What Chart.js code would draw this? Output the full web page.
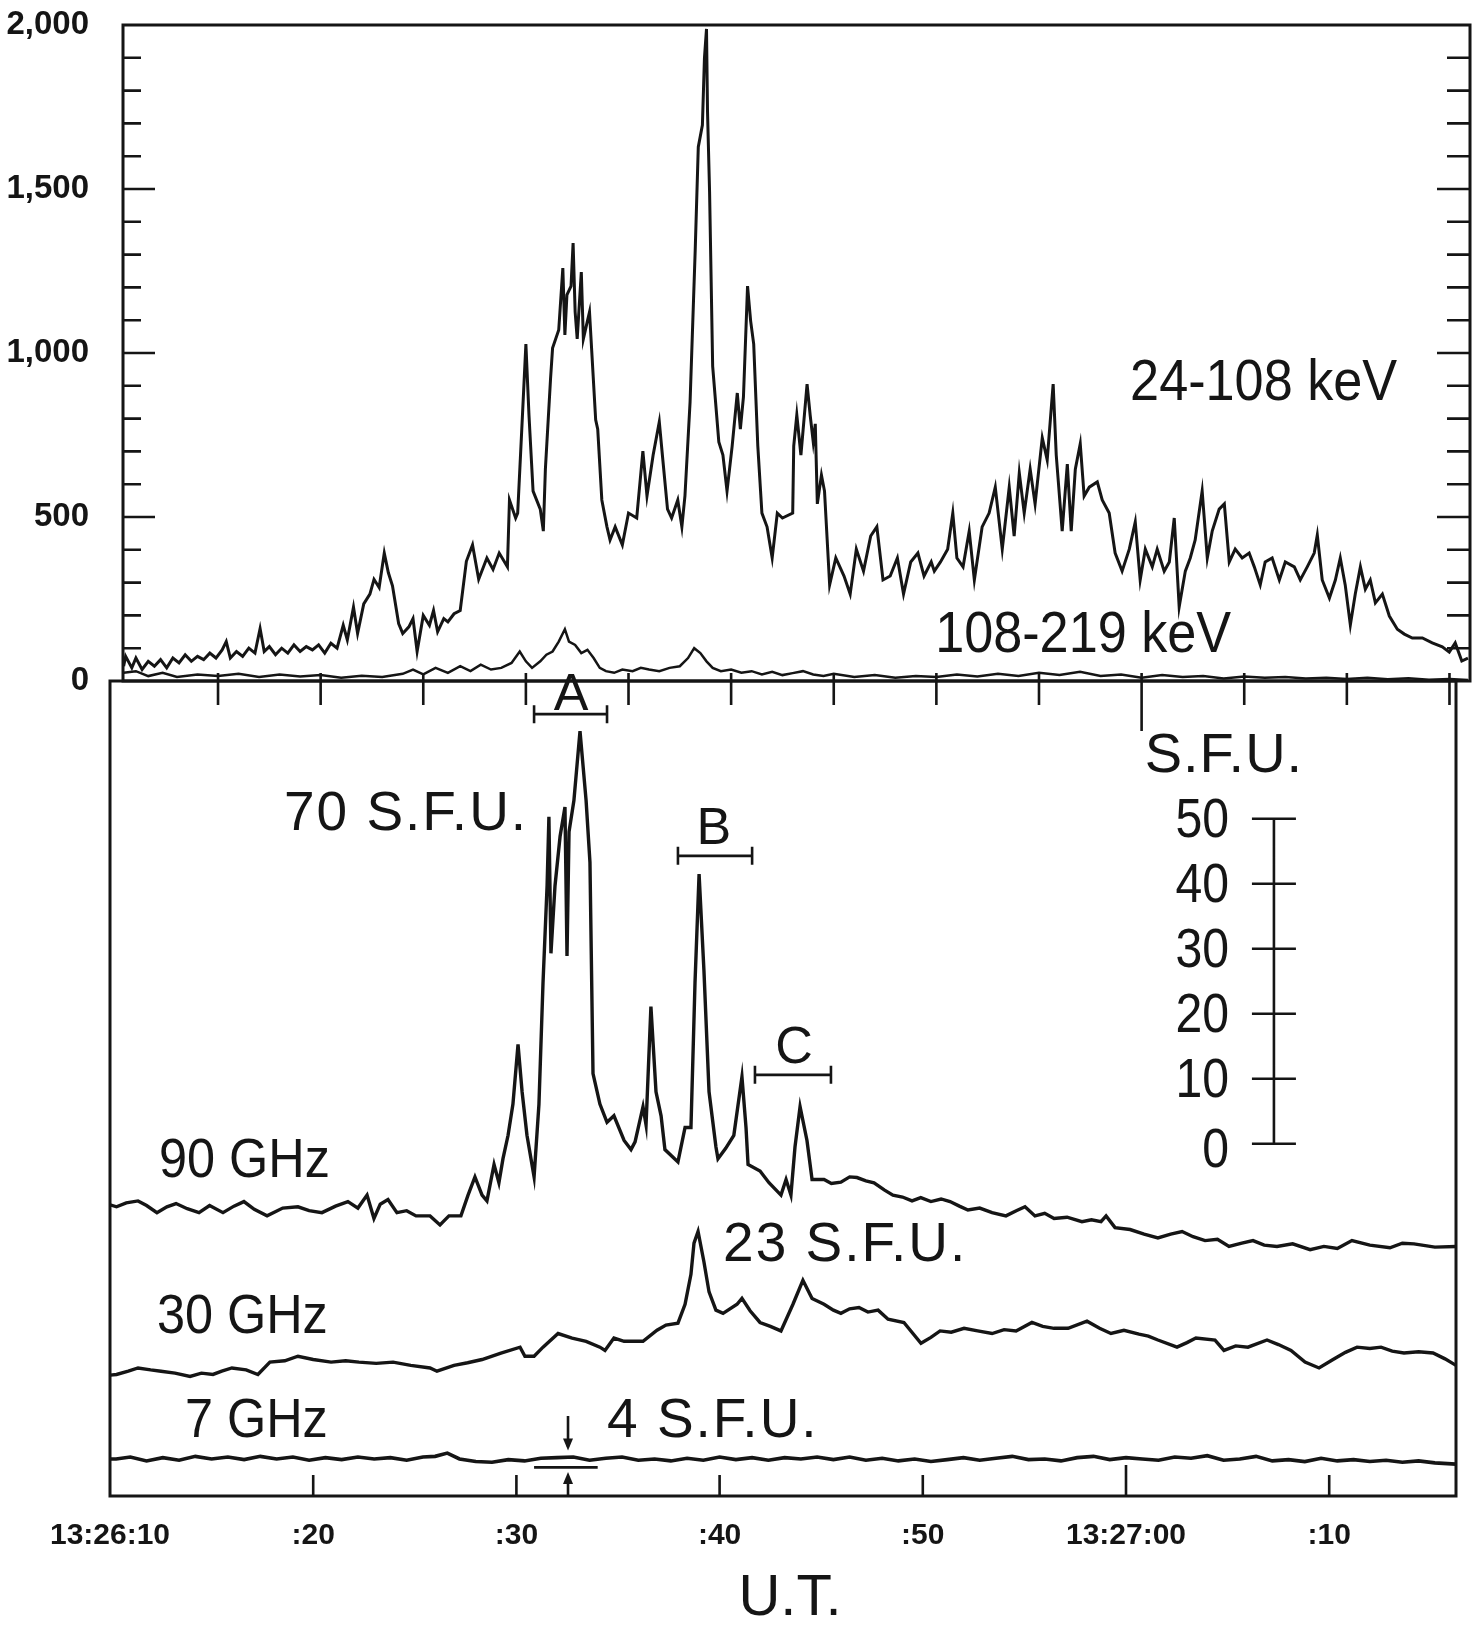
<!DOCTYPE html>
<html>
<head>
<meta charset="utf-8">
<title>Hard X-ray and microwave burst</title>
<script src="https://cdn.jsdelivr.net/npm/chart.js@4.4.1/dist/chart.umd.min.js"></script>
<style>
  body { margin: 0; background: #fff; }
  .wrap { position: relative; width: 1482px; height: 1628px; }
  canvas { position: absolute; left: 0; top: 0; }
</style>
</head>
<body>
<div class="wrap">
  <canvas id="xrayChart" width="1482" height="1628"></canvas>
  <canvas id="radioChart" width="1482" height="1628"></canvas>
</div>
<script>
// time is in seconds after 13:26:00 U.T.
const countTicks = [0, 500, 1000, 1500, 2000];
const timeTicks = [10, 20, 30, 40, 50, 60, 70];
const timeLabels = ['13:26:10', ':20', ':30', ':40', ':50', '13:27:00', ':10'];
const sfuScale = [0, 10, 20, 30, 40, 50];

// 24-108 keV counts  [t, counts]
const hxrLow = [
    [10.4,45],[10.5,75],[10.8,40],[11.0,70],[11.3,35],[11.6,60],[11.9,45],[12.2,65],[12.5,40],[12.8,70],
    [13.1,55],[13.4,80],[13.7,60],[14.0,75],[14.3,65],[14.6,85],[14.9,70],[15.2,95],[15.4,120],[15.6,70],
    [15.9,90],[16.2,75],[16.5,100],[16.8,85],[17.05,160],[17.25,90],[17.5,105],[17.8,80],[18.1,100],[18.4,85],
    [18.7,110],[19.0,90],[19.3,105],[19.6,95],[19.9,110],[20.2,85],[20.5,115],[20.8,100],[21.1,170],[21.3,125],
    [21.6,225],[21.8,145],[22.1,235],[22.4,265],[22.6,310],[22.85,285],[23.1,390],[23.3,330],[23.5,290],[23.8,175],
    [24.0,145],[24.3,165],[24.5,190],[24.7,90],[25.0,200],[25.3,170],[25.5,215],[25.7,150],[26.0,190],[26.2,180],
    [26.5,205],[26.8,215],[27.1,365],[27.4,415],[27.7,310],[28.1,375],[28.4,340],[28.7,390],
    [29.1,348],[29.2,552],[29.5,497],[29.6,512],[29.8,768],[30.0,1027],[30.15,811],[30.35,579],[30.7,524],[30.85,457],
    [30.95,646],[31.2,920],[31.3,1015],[31.6,1070],[31.8,1259],[31.9,1055],[32.0,1177],[32.2,1204],[32.3,1335],[32.4,1125],
    [32.5,1043],[32.7,1247],[32.8,1043],[33.0,1098],[33.1,1125],[33.2,1015],[33.4,796],[33.5,768],[33.7,552],[33.95,470],
    [34.1,430],[34.35,470],[34.7,415],[35.0,512],[35.4,497],[35.7,701],[35.9,564],[36.2,689],[36.5,790],[36.65,689],
    [36.9,524],[37.1,497],[37.4,552],[37.6,470],[37.75,564],[38.0,851],[38.25,1314],[38.4,1628],[38.6,1695],[38.7,1899],
    [38.8,1988],[38.85,1735],[38.95,1491],[39.1,960],[39.4,729],[39.6,689],[39.8,579],[40.05,716],[40.3,878],[40.45,768],
    [40.6,866],[40.8,1204],[40.95,1098],[41.1,1027],[41.3,716],[41.5,512],[41.75,470],[42.0,375],[42.25,512],[42.5,497],
    [43.0,512],[43.05,716],[43.2,811],[43.4,689],[43.7,905],[43.85,811],[44.0,729],[44.1,784],[44.2,540],[44.4,628],
    [44.55,579],[44.8,293],[45.1,375],[45.5,320],[45.8,265],[46.1,402],[46.45,335],[46.8,442],[47.1,470],[47.4,308],
    [47.75,320],[48.1,375],[48.4,265],[48.75,363],[49.1,390],[49.4,320],[49.75,363],[49.9,335],[50.2,363],[50.55,402],
    [50.8,512],[51.0,375],[51.3,348],[51.6,457],[51.85,308],
    [52.23,470],[52.57,512],[52.87,591],[53.21,402],[53.55,591],[53.79,442],[54.04,634],[54.28,512],[54.57,646],[54.81,540],
    [55.16,741],[55.40,674],[55.69,905],[55.84,689],[56.13,457],[56.38,661],[56.57,457],[56.77,646],[57.01,723],[57.20,564],
    [57.45,591],[57.84,607],[58.08,552],[58.42,512],[58.71,390],[59.05,335],[59.40,402],[59.69,485],[59.93,308],[60.18,402],
    [60.52,348],[60.76,402],[61.10,335],[61.35,363],[61.59,497],[61.83,226],[62.13,335],[62.37,375],[62.61,430],[62.95,579],
    [63.20,375],[63.44,457],[63.78,524],[64.03,540],[64.27,363],[64.56,402],[64.90,375],[65.24,390],[65.49,348],[65.78,293],
    [66.02,363],[66.36,375],[66.71,308],[67.00,363],[67.44,348],[67.73,308],[68.07,348],[68.41,390],[68.56,445],[68.80,308],
    [69.15,253],[69.44,308],[69.68,375],[69.92,293],[70.17,171],[70.41,265],[70.66,348],[70.90,280],[71.14,308],[71.39,238],
    [71.73,265],[72.07,198],[72.46,158],[72.80,143],[73.19,131],[73.68,131],[74.16,116],[74.65,104],[74.99,88],[75.28,116],
    [75.6,61],[75.9,70]
];

// 108-219 keV counts  [t, counts]
const hxrHigh = [
    [10.4,25],[11.0,30],[11.6,15],[12.3,25],[13.0,12],[14.0,20],[15.0,15],[16.0,22],[17.0,12],[18.0,20],
    [19.0,14],[20.0,18],[21.0,10],[22.0,16],[23.0,12],[24.0,22],[24.5,35],[25.0,20],[25.6,40],[26.2,25],
    [26.8,45],[27.3,30],[27.8,50],[28.3,35],[28.8,40],[29.3,55],[29.7,90],[30.0,60],[30.3,40],[30.7,60],
    [31.0,80],[31.3,90],[31.6,120],[31.9,158],[32.1,120],[32.4,110],[32.7,85],[33.0,95],[33.3,70],[33.6,40],
    [33.9,30],[34.3,25],[34.7,35],[35.2,30],[35.6,40],[36.0,35],[36.5,30],[37.0,40],[37.5,45],[37.9,70],
    [38.2,100],[38.5,85],[38.8,60],[39.1,40],[39.5,30],[40.0,35],[40.5,25],[41.0,30],[41.5,20],[42.0,28],
    [42.5,18],[43.0,24],[43.5,30],[44.0,20],[44.5,15],[45.0,22],[46.0,12],[47.0,18],[48.0,10],[49.0,15],
    [50.0,12],[51.0,20],[52.0,14],[53.0,22],[54.0,15],[55.0,25],[56.0,18],[57.0,28],[58.0,15],[59.0,20],
    [60.0,10],[61.0,18],[62.0,12],[63.0,15],[64.0,8],[65.0,14],[66.0,10],[67.0,12],[68.0,8],[69.0,10],
    [70.0,6],[71.0,10],[72.0,5],[73.0,8],[74.0,4],[75.0,6],[75.9,3]
];

// microwave flux above each trace's starting level, S.F.U.  [t, flux]
const radio90 = [
    [10.0,0.3],[10.32,0],[10.8,0.6],[11.38,0.9],[11.8,0.2],[12.31,-0.9],[12.8,0],[13.25,0.5],[13.8,-0.3],[14.38,-0.9],
    [14.9,0.2],[15.56,-0.9],[16.1,0.1],[16.59,0.8],[17.1,-0.4],[17.73,-1.4],[18.5,-0.2],[19.25,0],[19.8,-0.6],[20.43,-0.9],
    [21.1,0.1],[21.71,0.8],[22.2,-0.2],[22.65,1.8],[22.99,-1.8],[23.3,0.4],[23.68,1.1],[24.12,-0.9],[24.6,-0.6],[25.06,-1.4],
    [25.75,-1.4],[26.24,-2.8],[26.68,-1.4],[27.27,-1.4],[27.62,1.8],[27.96,4.6],[28.31,1.8],[28.55,0.9],[28.9,6.5],[29.14,3.7],
    [29.34,7.4],[29.59,11],[29.83,15.8],[30.08,25],[30.28,17.7],[30.52,11],[30.87,4.6],[31.11,15.8],[31.31,34.5],[31.51,49.4],
    [31.6,60],[31.7,39],[31.9,49.4],[32.15,57],[32.39,61.5],[32.49,38.6],[32.59,57.7],[32.83,62.5],[33.13,73.2],[33.43,62.5],
    [33.62,53],[33.77,20.5],[34.11,15.8],[34.46,13],[34.8,14],[35.3,10.2],[35.64,8.8],[35.84,10],[36.23,15.4],[36.38,12.6],
    [36.62,30.8],[36.87,17.7],[37.12,14],[37.31,8.8],[37.95,6.9],[38.3,12.2],[38.59,12.2],[38.79,34.5],[38.99,51.2],[39.23,36.3],
    [39.48,17.7],[39.82,9.2],[39.92,7.4],[40.3,9],[40.7,11],[41.1,20],[41.3,12.2],[41.4,6.5],[41.99,5.5],[42.43,3.7],
    [43.02,1.8],[43.27,4.2],[43.51,1.8],[43.71,9.2],[43.96,15.4],[44.3,10.2],[44.55,4.2],[45.14,4.2],[45.5,3.6],[45.97,3.8],
    [46.4,4.6],[46.76,4.5],[47.2,4.0],[47.6,3.7],[48.1,2.6],[48.53,1.8],[49.0,1.5],[49.47,0.9],[49.9,1.4],[50.4,0.8],
    [50.9,1.2],[51.34,0.8],[51.8,0.1],[52.22,-0.5],[52.8,-0.2],[53.41,-0.9],[54.09,-1.4],[54.6,-0.6],[55.03,0],[55.52,-1.4],
    [56.0,-1.0],[56.46,-1.8],[57.1,-1.6],[57.83,-2.3],[58.3,-2.0],[58.77,-2.3],[59.02,-1.4],[59.46,-3.2],[60.2,-3.5],[60.89,-4.2],
    [61.57,-4.8],[62.2,-4.2],[62.76,-3.8],[63.3,-4.6],[63.89,-5.2],[64.5,-5.0],[65.07,-6.1],[65.7,-5.6],[66.25,-5.2],[66.8,-5.9],
    [67.43,-6.1],[68.2,-5.7],[69.06,-6.6],[69.74,-6.1],[70.4,-6.4],[71.12,-5.2],[72.0,-5.9],[72.99,-6.3],[73.6,-5.6],[74.17,-5.7],
    [75.2,-6.2],[76.24,-6.1]
];
const radio30 = [
    [10.0,-0.6],[10.32,-0.5],[10.9,0],[11.38,0.5],[12.0,0.2],[12.51,0],[13.2,-0.3],[13.94,-0.8],[14.5,-0.3],[15.07,-0.5],
    [15.5,0],[16.0,0.5],[16.7,0.2],[17.28,-0.5],[17.87,1.4],[18.6,1.6],[19.25,2.3],[20.0,1.8],[20.88,1.4],[21.6,1.6],
    [22.25,1.4],[23.1,1.2],[23.93,1.4],[24.8,0.9],[25.75,0.5],[26.09,0],[26.93,0.9],[27.6,1.3],[28.31,1.8],[29.24,2.8],
    [30.18,3.7],[30.42,2.3],[30.87,2.3],[31.31,3.7],[32.05,5.8],[32.74,5.1],[33.43,4.6],[34.11,3.7],[34.36,3.2],[34.8,5.1],
    [35.3,4.6],[36.23,4.6],[36.92,6.3],[37.36,7.1],[37.95,7.4],[38.3,10.3],[38.59,14.9],[38.74,19.7],[38.94,21.5],[39.23,16.8],
    [39.48,12.2],[39.82,9.4],[40.17,8.9],[40.86,10.3],[41.1,11.2],[41.5,9.3],[41.99,7.5],[42.5,6.9],[43.02,6.2],[43.61,10.3],
    [44.1,14],[44.55,11.2],[45.14,10.3],[45.6,9.4],[45.97,8.9],[46.4,9.6],[46.86,9.8],[47.3,9.1],[47.8,9.4],[48.29,8],
    [49.07,7.5],[49.91,4.3],[50.4,5.2],[50.85,6.2],[51.4,6.0],[52.03,6.6],[52.7,6.2],[53.41,5.8],[54.0,6.4],[54.59,6.2],
    [55.37,7.5],[55.9,6.9],[56.46,6.6],[57.15,6.6],[58.08,7.7],[58.7,6.6],[59.26,5.8],[59.9,6.3],[60.64,5.7],[61.1,5.4],
    [61.57,4.8],[62.51,3.7],[63.0,4.4],[63.44,5.1],[64.38,4.8],[64.82,3.2],[65.4,3.9],[66.0,3.7],[66.94,4.8],[67.5,4.1],
    [68.12,3.2],[68.81,1.4],[69.5,0.5],[70.19,1.8],[70.8,2.9],[71.37,3.7],[72.0,3.5],[72.55,3.7],[73.1,3.1],[73.68,2.8],
    [74.4,3.0],[75.11,2.8],[75.7,1.9],[76.24,0.9]
];
const radio7 = [
    [10.0,0],[10.3,0],[11.0,0.3],[11.8,-0.3],[12.6,0.2],[13.4,-0.2],[14.2,0.4],[15.0,0],[15.8,0.3],[16.6,-0.1],[17.4,0.4],
    [18.2,0],[19.0,0.3],[19.8,-0.2],[20.6,0.2],[21.4,-0.1],[22.2,0.3],[23.0,0],[23.8,0.2],[24.6,-0.2],[25.4,0.3],
    [26.0,0.4],[26.6,0.9],[27.2,0],[28.0,-0.4],[28.8,-0.5],[29.6,-0.1],[30.4,-0.3],[31.2,0.1],[32.0,0.2],[32.8,0.3],
    [33.6,-0.2],[34.4,0.1],[35.2,0.3],[36.0,-0.2],[36.8,0],[37.6,-0.3],[38.4,0.1],[39.2,-0.2],[40.0,0.3],[40.8,-0.1],
    [41.6,0.2],[42.4,-0.2],[43.2,0.2],[44.0,0],[44.8,0.3],[45.6,-0.1],[46.4,0.3],[47.2,-0.2],[48.0,0.1],[48.8,-0.3],
    [49.6,0],[50.4,-0.4],[51.2,-0.1],[52.0,0.2],[52.8,-0.2],[53.6,0.1],[54.4,0.4],[55.2,-0.1],[56.0,0],[56.8,-0.3],
    [57.6,0.2],[58.4,0.4],[59.2,-0.1],[60.0,0.2],[60.8,0],[61.6,-0.2],[62.4,0.3],[63.2,0.1],[64.0,0.5],[64.8,-0.2],
    [65.6,0],[66.4,0.4],[67.2,-0.3],[68.0,-0.1],[68.8,-0.4],[69.6,0.1],[70.4,-0.3],[71.2,-0.1],[72.0,-0.4],[72.8,-0.2],
    [73.6,-0.5],[74.4,-0.3],[75.2,-0.6],[76.24,-0.8]
];

// vertical offsets of the stacked microwave traces (plot units = S.F.U.)
const offset90 = 44.5;
const offset30 = 19.2;
const offset7 = 5.7;
const sfuBarBase = 54.2;

const INK = '#151515';
const FONT = "'Liberation Sans', Arial, Helvetica, sans-serif";

function toPoints(series, offset) {
    return series.map(([t, v]) => ({ x: t, y: v + (offset || 0) }));
}

// text helper; sx squeezes glyphs horizontally like the narrow lettering of the original
function drawText(ctx, text, px, py, opt) {
    const o = Object.assign({ size: 52, align: 'left', spacing: '0px', weight: 'normal', sx: 1 }, opt);
    ctx.save();
    ctx.font = `${o.weight} ${o.size}px ${FONT}`;
    ctx.letterSpacing = o.spacing;
    ctx.textAlign = o.align;
    ctx.textBaseline = 'middle';
    ctx.fillStyle = INK;
    ctx.translate(px, py);
    ctx.scale(o.sx, 1);
    ctx.fillText(text, 0, 0);
    ctx.restore();
}

const xrayFrame = {
    id: 'xrayFrame',
    afterDatasetsDraw(chart) {
        const { ctx, chartArea: a, scales: { x, y } } = chart;
        ctx.save();
        ctx.strokeStyle = INK;
        ctx.lineWidth = 3;
        ctx.strokeRect(a.left, a.top, a.right - a.left, a.bottom - a.top);

        ctx.lineWidth = 2.6;
        ctx.beginPath();
        for (let v = 100; v < 2000; v += 100) {
            const py = y.getPixelForValue(v);
            const major = v % 500 === 0;
            ctx.moveTo(a.left, py);
            ctx.lineTo(a.left + (major ? 32 : 18), py);
            ctx.moveTo(a.right, py);
            ctx.lineTo(a.right - (major ? 33 : 23), py);
        }
        for (let t = 15; t <= 75; t += 5) {
            const px = x.getPixelForValue(t);
            ctx.moveTo(px, a.bottom - 8);
            ctx.lineTo(px, a.bottom + (t === 60 ? 50 : 24));
        }
        ctx.stroke();

        drawText(ctx, '24-108 keV', x.getPixelForValue(59.44), y.getPixelForValue(905), { size: 58, sx: 0.9 });
        drawText(ctx, '108-219 keV', x.getPixelForValue(49.94), y.getPixelForValue(137), { size: 58, sx: 0.9 });
        ctx.restore();
    }
};

const radioFrame = {
    id: 'radioFrame',
    afterDatasetsDraw(chart) {
        const { ctx, chartArea: a, scales: { x, y } } = chart;
        ctx.save();
        ctx.strokeStyle = INK;
        ctx.fillStyle = INK;
        ctx.lineWidth = 3;
        ctx.strokeRect(a.left, a.top, a.right - a.left, a.bottom - a.top);

        ctx.lineWidth = 2.6;
        ctx.beginPath();
        timeTicks.slice(1).forEach(t => {
            const px = x.getPixelForValue(t);
            ctx.moveTo(px, a.bottom);
            ctx.lineTo(px, a.bottom - (t === 60 ? 31 : 21));
        });

        // interval brackets A, B, C
        const bracket = (t0, t1, p) => {
            const py = y.getPixelForValue(p);
            const x0 = x.getPixelForValue(t0);
            const x1 = x.getPixelForValue(t1);
            ctx.moveTo(x0, py); ctx.lineTo(x1, py);
            ctx.moveTo(x0, py - 9); ctx.lineTo(x0, py + 9);
            ctx.moveTo(x1, py - 9); ctx.lineTo(x1, py + 9);
        };
        bracket(30.87, 34.46, 120.3);
        bracket(37.95, 41.6, 98.5);
        bracket(41.74, 45.48, 64.8);

        // S.F.U. scale bar
        const xb = x.getPixelForValue(67.28);
        ctx.moveTo(xb, y.getPixelForValue(sfuBarBase));
        ctx.lineTo(xb, y.getPixelForValue(sfuBarBase + 50));
        sfuScale.forEach(s => {
            const py = y.getPixelForValue(sfuBarBase + s);
            ctx.moveTo(xb - 22, py);
            ctx.lineTo(xb + 22, py);
        });

        // 4 S.F.U. marker on the 7 GHz trace
        const xa = x.getPixelForValue(32.54);
        ctx.moveTo(xa, y.getPixelForValue(12.3));
        ctx.lineTo(xa, y.getPixelForValue(7.6));
        ctx.moveTo(x.getPixelForValue(30.87), y.getPixelForValue(4.4));
        ctx.lineTo(x.getPixelForValue(34.0), y.getPixelForValue(4.4));
        ctx.moveTo(xa, a.bottom);
        ctx.lineTo(xa, y.getPixelForValue(2.6));
        ctx.stroke();

        const head = (px, tipY, dir) => {
            ctx.beginPath();
            ctx.moveTo(px, tipY);
            ctx.lineTo(px - 5, tipY - dir * 12);
            ctx.lineTo(px + 5, tipY - dir * 12);
            ctx.closePath();
            ctx.fill();
        };
        head(xa, y.getPixelForValue(7.0), 1);
        head(xa, y.getPixelForValue(3.7), -1);

        drawText(ctx, 'A', x.getPixelForValue(32.69), y.getPixelForValue(123.2), { size: 52, align: 'center' });
        drawText(ctx, 'B', x.getPixelForValue(39.72), y.getPixelForValue(102.6), { size: 52, align: 'center' });
        drawText(ctx, 'C', x.getPixelForValue(43.66), y.getPixelForValue(68.9), { size: 52, align: 'center' });
        drawText(ctx, '70 S.F.U.', x.getPixelForValue(18.56), y.getPixelForValue(104.8), { size: 55, spacing: '2px' });
        drawText(ctx, '23 S.F.U.', x.getPixelForValue(40.17), y.getPixelForValue(38.5), { size: 55, spacing: '2px' });
        drawText(ctx, '4 S.F.U.', x.getPixelForValue(34.46), y.getPixelForValue(11.4), { size: 55, spacing: '2px' });
        drawText(ctx, 'S.F.U.', x.getPixelForValue(64.82), y.getPixelForValue(113.7), { size: 56, align: 'center', spacing: '1px' });
        drawText(ctx, '90 GHz', x.getPixelForValue(12.41), y.getPixelForValue(51.4), { size: 56, sx: 0.9 });
        drawText(ctx, '30 GHz', x.getPixelForValue(12.31), y.getPixelForValue(27.4), { size: 56, sx: 0.9 });
        drawText(ctx, '7 GHz', x.getPixelForValue(13.69), y.getPixelForValue(11.4), { size: 56, sx: 0.9 });
        sfuScale.forEach(s => {
            drawText(ctx, String(s), x.getPixelForValue(65.07), y.getPixelForValue(sfuBarBase + s) + (s === 0 ? 8 : 3),
                { size: 56, align: 'right', sx: 0.86 });
        });
        drawText(ctx, 'U.T.', 790, 1599, { size: 58, align: 'center' });
        ctx.restore();
    }
};

const lineStyle = {
    borderColor: INK,
    pointRadius: 0,
    tension: 0,
    fill: false
};

new Chart(document.getElementById('xrayChart'), {
    type: 'line',
    data: {
        datasets: [
            { ...lineStyle, label: '24-108 keV', data: toPoints(hxrLow), borderWidth: 3 },
            { ...lineStyle, label: '108-219 keV', data: toPoints(hxrHigh), borderWidth: 2.5 }
        ]
    },
    options: {
        responsive: false,
        animation: false,
        devicePixelRatio: 1,
        layout: { padding: { left: 0, right: 12, top: 25, bottom: 947 } },
        plugins: { legend: { display: false }, tooltip: { enabled: false } },
        scales: {
            x: { type: 'linear', display: false, min: 10.37, max: 76.0 },
            y: {
                type: 'linear',
                min: 0,
                max: 2000,
                afterFit(scale) {
                    scale.width = 123;
                    scale.paddingTop = 0;
                    scale.paddingBottom = 0;
                },
                afterBuildTicks(scale) { scale.ticks = countTicks.map(value => ({ value })); },
                grid: { display: false, drawTicks: false },
                border: { display: false },
                ticks: {
                    padding: 34,
                    color: INK,
                    font: { family: FONT, size: 33, weight: 'bold' }
                }
            }
        }
    },
    plugins: [xrayFrame]
});

new Chart(document.getElementById('radioChart'), {
    type: 'line',
    data: {
        datasets: [
            { ...lineStyle, label: '90 GHz', data: toPoints(radio90, offset90), borderWidth: 3.4 },
            { ...lineStyle, label: '30 GHz', data: toPoints(radio30, offset30), borderWidth: 3.4 },
            { ...lineStyle, label: '7 GHz', data: toPoints(radio7, offset7), borderWidth: 3.6 }
        ]
    },
    options: {
        responsive: false,
        animation: false,
        devicePixelRatio: 1,
        layout: { padding: { left: 110, right: 26, top: 681, bottom: 0 } },
        plugins: { legend: { display: false }, tooltip: { enabled: false } },
        scales: {
            x: {
                type: 'linear',
                min: 10,
                max: 76.24,
                afterFit(scale) { scale.height = 132; },
                afterBuildTicks(scale) { scale.ticks = timeTicks.map(value => ({ value })); },
                grid: { display: false, drawTicks: false },
                border: { display: false },
                ticks: {
                    padding: 22,
                    autoSkip: false,
                    maxRotation: 0,
                    color: INK,
                    font: { family: FONT, size: 30, weight: 'bold' },
                    callback: (value, index) => timeLabels[index]
                }
            },
            y: { type: 'linear', display: false, min: 0, max: 125.4 }
        }
    },
    plugins: [radioFrame]
});
</script>
</body>
</html>
